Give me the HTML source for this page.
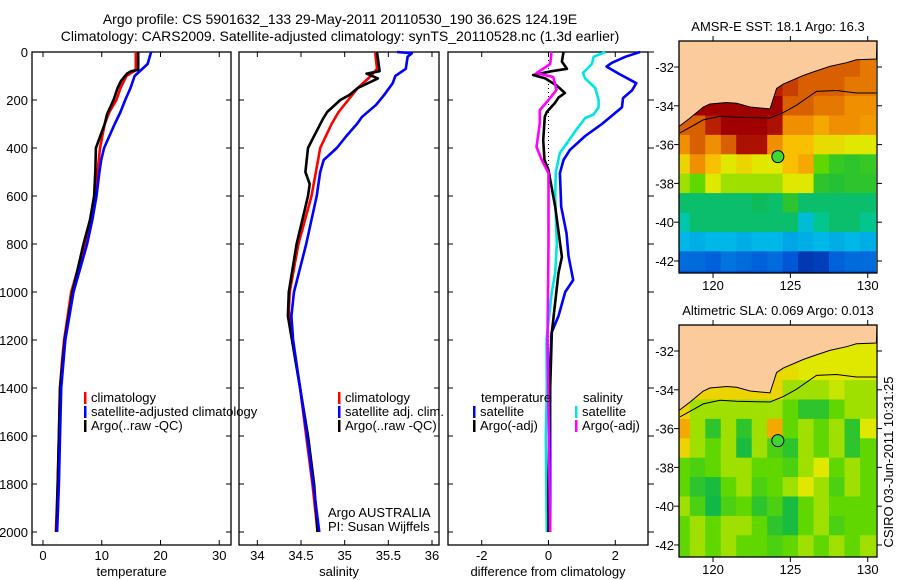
<!DOCTYPE html>
<html><head><meta charset="utf-8"><style>
html,body{margin:0;padding:0;background:#fff;}
svg{display:block;font-family:"Liberation Sans",sans-serif;}
</style></head><body>
<svg id="fig" width="900" height="580" viewBox="0 0 900 580" xmlns="http://www.w3.org/2000/svg">
<text x="340" y="24" font-size="14" text-anchor="middle">Argo profile: CS 5901632_133 29-May-2011 20110530_190 36.62S 124.19E</text>
<text x="340" y="41" font-size="14" text-anchor="middle">Climatology: CARS2009. Satellite-adjusted climatology: synTS_20110528.nc (1.3d earlier)</text>
<text x="0" y="0" font-size="13" text-anchor="middle" transform="translate(893,462) rotate(-90)">CSIRO 03-Jun-2011 10:31:25</text>
</svg>
<script>
// ---------- data ----------
const tDepth=[0,70,80,100,150,200,250,300,400,500,600,700,800,900,1000,1100,1200,1300,1400,1600,1800,2000];
const tClim=[15.8,15.8,15.5,14.2,13.2,12.5,11.3,10.5,9.7,9.3,8.9,8.0,7.1,6.0,4.8,4.2,3.6,3.2,2.9,2.7,2.5,2.2];
const tSatDepth=[0,50,100,150,200,250,300,400,450,500,600,700,800,1000,1200,1400,1600,1800,2000];
const tSat=[18.4,17.8,15.6,14.9,14.0,13.2,12.2,10.4,9.9,9.6,9.1,8.4,7.5,5.2,3.8,3.1,2.9,2.7,2.4];
const tArgoDepth=[0,75,80,90,120,150,200,260,300,400,500,600,700,800,1000,1200,1400,1600,1800,2000];
const tArgo=[16.2,16.2,15.0,14.3,13.3,12.7,12.0,10.9,10.5,9.0,8.9,8.7,8.0,6.9,5.0,3.7,2.9,2.7,2.5,2.3];

const sDepth=[0,70,100,150,200,250,300,400,500,600,800,1000,1080,1200,1400,1600,1800,2000];
const sClim=[35.35,35.37,35.3,35.15,35.04,34.93,34.85,34.72,34.67,34.62,34.47,34.37,34.36,34.4,34.49,34.56,34.63,34.69];
const sSatDepth=[0,5,20,70,100,130,180,220,270,300,350,400,450,500,600,800,1000,1100,1200,1400,1600,1800,2000];
const sSat=[35.6,35.77,35.72,35.7,35.58,35.55,35.45,35.36,35.2,35.14,35.02,34.91,34.76,34.72,34.68,34.56,34.42,34.39,34.41,34.49,34.57,34.64,34.71];
const sArgoDepth=[0,80,90,110,150,180,200,250,280,350,400,500,550,600,800,1000,1100,1400,1600,1800,2000];
const sArgo=[35.37,35.4,35.25,35.38,35.15,35.05,34.95,34.8,34.75,34.65,34.58,34.55,34.6,34.58,34.45,34.36,34.35,34.49,34.58,34.65,34.69];

const dTSatDepth=[0,20,45,61,90,130,160,192,230,262,300,350,408,450,505,645,755,850,950,1000,1100,1170,1300,1600,2000];
const dTSat=[2.74,2.3,1.9,1.74,2.1,2.63,2.5,2.23,2.2,1.93,1.6,1.1,0.64,0.45,0.34,0.38,0.54,0.6,0.74,0.5,0.3,0.09,0.05,0.05,0.05];
const dTArgoDepth=[0,40,70,80,96,110,140,171,190,213,250,270,367,450,492,645,854,920,1170,1400,1800,2000];
const dTArgo=[0.45,0.4,0.55,0.1,-0.46,-0.1,0.25,0.49,0.3,0.19,-0.05,-0.11,-0.16,-0.12,0,0.2,0.4,0.3,0.1,0.05,0.0,0.0];
const dSSatDepth=[0,20,50,88,110,150,200,230,260,275,330,380,420,500,600,800,920,1000,1200,1400,1600,2000];
const dSSat=[1.7,1.35,1.3,1.03,1.1,1.4,1.5,1.5,1.35,1.1,0.8,0.55,0.34,0.22,0.2,0.25,0.2,0.1,-0.06,-0.05,-0.08,-0.05];
const dSArgoDepth=[0,50,88,104,158,200,242,296,396,450,505,800,1200,2000];
const dSArgo=[0.09,0.05,-0.36,0.14,0.24,0.0,-0.26,-0.26,-0.36,-0.2,0,0.0,-0.03,0.05];

const depthTicks=[0,200,400,600,800,1000,1200,1400,1600,1800,2000];
const tempTicks=[0,10,20,30];
const salTicks=[34,34.5,35,35.5,36];
const salTickLabels=["34","34.5","35","35.5","36"];
const diffTicks=[-2,0,2];

const mapLons=[118,119,120,121,122,123,124,125,126,127,128,129,130];
const mapLats=[-31,-32,-33,-34,-35,-36,-37,-38,-39,-40,-41,-42,-43];
const sstGrid=[
[8,8,8,8,8,8,8,8,8,8,8,8,8],
[8,8,8,8,8,8,8,8,8,8,8,8,7.5],
[9,9,9,9,9,9,9,8.5,8,8,8,7.5,7.5],
[10,10,10,10,10,10,10,8,8,7.5,7.5,7,7],
[8,8,9,10,10,10,9.5,7,7,6.5,7,7,6.8],
[7,8,7,8,9.5,9.5,7,6,6,5.3,5.3,5,5],
[5.5,7,6,5,5.5,5,5,6,6.5,4,3.6,3.5,3.6],
[4.5,4,5,4.5,4.5,4.5,4.5,5,5,3.5,3.4,3.5,3.5],
[3,3,3,3,3,3.1,3,3.5,3,3,3,3,3],
[2.6,3,3,3,3,3,3,3,2.2,2.8,3,3,2.8],
[2,1.9,2,2,1.9,2,2,1.8,1.9,2,1.9,2,1.9],
[1.2,1.2,1.1,1.3,1.2,1.1,1.2,1,0.5,0.6,1.1,1.2,1.2],
[0.8,0.9,0.8,0.9,0.8,0.8,0.9,0.6,0.4,0.5,0.8,0.9,0.8]];
const slaGrid=[
[5,5,5,5,5,5,5,5,5,5,5,5,5],
[5,5,5,5,5,5,5,5,5,5,5,5,5],
[5.5,5.5,5.5,5.5,5.5,5.5,5.5,5.3,5,5,5,5,5],
[5.5,5.5,5.5,5.5,5.5,5.5,5.5,4.5,4.5,4.5,4.8,4.5,4.5],
[5.5,4.5,4.5,4.5,4.5,4.5,4.5,4,3.5,3.5,4,4.5,4.5],
[6.5,4.5,3.5,4.5,3.5,4.5,6.5,4,4.5,4,4.5,3.5,5],
[5.5,4.5,4,4.5,3.3,4.5,3.8,3.5,4.5,4,4.5,3.5,4],
[4,3.8,4,4.5,4.5,4,4,3.8,4.5,5,4,4.5,4],
[4,3.5,3.3,4,4.5,3.8,4,4.5,5,4.5,3.8,4.5,4],
[4.5,3.8,3.2,3.8,4,3.5,3.8,3.3,4,4.5,4,4,4],
[4,4.5,4,4.5,4.5,4,3.5,3.3,4,4.5,3.8,4,4],
[4,4.5,4,4.5,4,4,3.8,4,4.5,4,4.5,4,4.5],
[4,4.5,4,4.5,4,4,3.8,4,4.5,4,4.5,4,4.5]];
const coastLon=[117.87,118.52,119.37,119.8,120.88,121.53,122.39,123.68,124.11,124.54,125.83,126.47,127.55,128.63,129.27,130.56];
const coastLat=[-35.02,-34.63,-34.06,-33.91,-33.83,-33.87,-34.06,-34.16,-33.11,-32.88,-32.44,-32.26,-31.97,-31.78,-31.63,-31.59];
const shelfLon=[117.87,118.52,119.37,120.45,121.53,123.68,124.54,125.4,126.26,126.69,127.98,129.27,130.56];
const shelfLat=[-35.39,-35.11,-34.73,-34.54,-34.59,-34.63,-34.35,-33.97,-33.49,-33.26,-33.21,-33.34,-33.34];
const argoLon=124.19, argoLat=-36.62;
const lonTicks=[120,125,130];
const latTicks=[-32,-34,-36,-38,-40,-42];

// ---------- drawing ----------
const NS="http://www.w3.org/2000/svg";
const svg=document.getElementById('fig');
function mk(tag,attrs,parent){const e=document.createElementNS(NS,tag);for(const k in attrs)e.setAttribute(k,attrs[k]);(parent||svg).appendChild(e);return e;}

const yTop=52, yBot=545;
const yD=d=>52+d*0.24;

function panel(name,x0,x1,xmin,xmax,ticks,labels,title,showYLabels,rightOut){
  const g=mk('g',{});
  
  
  const sx=v=>x0+(v-xmin)/(xmax-xmin)*(x1-x0);
  const r=mk('rect',{x:x0,y:yTop,width:x1-x0,height:yBot-yTop,fill:'none',stroke:'#000','stroke-width':1.3},g);
  
  
  depthTicks.forEach(d=>{
    const y=yD(d);
    mk('line',{x1:x0,x2:x0+5,y1:y,y2:y,stroke:'#000'},g);
    if(rightOut) mk('line',{x1:x1,x2:x1+6,y1:y,y2:y,stroke:'#000'},g);
    else mk('line',{x1:x1-5,x2:x1,y1:y,y2:y,stroke:'#000'},g);
    if(showYLabels){const t=mk('text',{x:x0-4,y:y+5,'font-size':13,'text-anchor':'end'},g);t.textContent=String(d);
      
      }
  });
  ticks.forEach((v,i)=>{
    const x=sx(v);
    mk('line',{x1:x,x2:x,y1:yBot,y2:yBot-5,stroke:'#000'},g);
    mk('line',{x1:x,x2:x,y1:yTop,y2:yTop+5,stroke:'#000'},g);
    const t=mk('text',{x:x,y:560,'font-size':13,'text-anchor':'middle'},g);t.textContent=labels[i];
    
    
  });
  const tt=mk('text',{x:(x0+x1)/2,y:576,'font-size':13,'text-anchor':'middle'},g);tt.textContent=title;
  
  
  return {g,sx};
}
function line(p,ds,vs,color,name){
  const pts=ds.map((d,i)=>p.sx(vs[i]).toFixed(1)+','+yD(d).toFixed(1)).join(' ');
  const l=mk('polyline',{points:pts,fill:'none',stroke:color,'stroke-width':2.6,'stroke-linejoin':'round'},p.g);
  
  
}
function legend(g,x,y,color,text,name){
  mk('rect',{x:x,y:y-10,width:2.5,height:12,fill:color},g);
  const t=mk('text',{x:x+7,y:y,'font-size':13},g);t.textContent=text;
  
  
}

const p1=panel('temperature-panel',32,231,-1.87,32,tempTicks,tempTicks.map(String),'temperature',true,false);
line(p1,tDepth,tClim,'#ff0000','temp-climatology-line');
line(p1,tArgoDepth,tArgo,'#000000','temp-argo-line');
line(p1,tSatDepth,tSat,'#0000ff','temp-satellite-line');
legend(p1.g,84,402,'#ff0000','climatology','legend-climatology');
legend(p1.g,84,416,'#0000ff','satellite-adjusted climatology','legend-satellite-adjusted');
legend(p1.g,84,430,'#000000','Argo(..raw -QC)','legend-argo');

const p2=panel('salinity-panel',239,439,33.79,36.08,salTicks,salTickLabels,'salinity',false,false);
line(p2,sDepth,sClim,'#ff0000','sal-climatology-line');
line(p2,sArgoDepth,sArgo,'#000000','sal-argo-line');
line(p2,sSatDepth,sSat,'#0000ff','sal-satellite-line');
legend(p2.g,338,402,'#ff0000','climatology','legend-sal-climatology');
legend(p2.g,338,416,'#0000ff','satellite adj. clim.','legend-sal-satellite');
legend(p2.g,338,430,'#000000','Argo(..raw -QC)','legend-sal-argo');
const a1=mk('text',{x:328,y:517,'font-size':13},p2.g);a1.textContent='Argo AUSTRALIA';


const a2=mk('text',{x:328,y:531,'font-size':13},p2.g);a2.textContent='PI: Susan Wijffels';



const p3=panel('difference-panel',448,648,-3.01,2.98,diffTicks,diffTicks.map(String),'difference from climatology',false,true);
mk('line',{x1:p3.sx(0),x2:p3.sx(0),y1:yD(0),y2:yD(2000),stroke:'#000','stroke-width':1,'stroke-dasharray':'1,3'},p3.g);
line(p3,dTSatDepth,dTSat,'#0000ff','diff-temp-satellite-line');
line(p3,dSSatDepth,dSSat,'#00e5e5','diff-sal-satellite-line');
line(p3,dTArgoDepth,dTArgo,'#000000','diff-temp-argo-line');
line(p3,dSArgoDepth,dSArgo,'#ff00ff','diff-sal-argo-line');
const lt=mk('text',{x:481,y:402,'font-size':13},p3.g);lt.textContent='temperature';


const ls=mk('text',{x:583,y:402,'font-size':13},p3.g);ls.textContent='salinity';


legend(p3.g,473,416,'#0000ff','satellite','legend-diff-temp-satellite');
legend(p3.g,473,430,'#000000','Argo(-adj)','legend-diff-temp-argo');
legend(p3.g,575,416,'#00e5e5','satellite','legend-diff-sal-satellite');
legend(p3.g,575,430,'#ff00ff','Argo(-adj)','legend-diff-sal-argo');

// colormap
const cStops=[[0,[0,26,140]],[1,[0,88,216]],[2,[0,184,232]],[2.7,[0,200,160]],[3.2,[16,184,72]],[4,[96,216,0]],[5,[224,232,0]],[6,[248,192,0]],[7,[240,144,0]],[8,[216,96,0]],[9,[184,32,0]],[10,[160,0,0]]];
function cmap(v){
  if(v<=cStops[0][0])return 'rgb('+cStops[0][1]+')';
  for(let i=1;i<cStops.length;i++){if(v<=cStops[i][0]){const a=cStops[i-1],b=cStops[i],t=(v-a[0])/(b[0]-a[0]);
    return 'rgb('+a[1].map((c,j)=>Math.round(c+(b[1][j]-c)*t)).join(',')+')';}}
  return 'rgb('+cStops[cStops.length-1][1]+')';
}
function map(name,top,grid,title){
  const L=679,R=877,B=top+232;
  const lonMin=117.8,lonMax=130.6,latTop=-30.66,latBot=-42.62;
  const sx=lo=>L+(lo-lonMin)/(lonMax-lonMin)*(R-L);
  const sy=la=>top+(latTop-la)/(latTop-latBot)*(B-top);
  const g=mk('g',{});
  
  
  const cp=mk('clipPath',{id:name+'-clip'},g);
  mk('rect',{x:L,y:top,width:R-L,height:B-top},cp);
  const cells=mk('g',{'clip-path':'url(#'+name+'-clip)'},g);
  mapLats.forEach((la,r)=>mapLons.forEach((lo,c)=>{
    const x=sx(lo-0.5),y=sy(la+0.5);
    const e=mk('rect',{x:x.toFixed(1),y:y.toFixed(1),width:(sx(lo+0.5)-x+0.6).toFixed(1),height:(sy(la-0.5)-y+0.6).toFixed(1),fill:cmap(grid[r][c])},cells);
    
    
  }));
  let land='M'+sx(lonMin)+','+sy(latTop);
  coastLon.forEach((lo,i)=>{land+=' L'+sx(lo).toFixed(1)+','+sy(coastLat[i]).toFixed(1);});
  land+=' L'+sx(lonMax)+','+sy(latTop)+' Z';
  const ld=mk('path',{d:'M'+sx(lonMin)+','+sy(coastLat[0])+land.slice(land.indexOf(' L')),fill:'#fccb9c',stroke:'#000','stroke-width':1},cells);
  ld.setAttribute('d','M'+sx(lonMin)+','+sy(latTop)+' L'+sx(lonMin)+','+sy(coastLat[0])+land.slice(land.indexOf(' L')));
  
  
  const sh=mk('polyline',{points:shelfLon.map((lo,i)=>sx(lo).toFixed(1)+','+sy(shelfLat[i]).toFixed(1)).join(' '),fill:'none',stroke:'#000','stroke-width':1},cells);
  
  
  const dot=mk('circle',{cx:sx(argoLon),cy:sy(argoLat),r:6,fill:'#40d830',stroke:'#000','stroke-width':1},g);
  
  
  const fr=mk('rect',{x:L,y:top,width:R-L,height:B-top,fill:'none',stroke:'#000','stroke-width':1.3},g);
  
  
  lonTicks.forEach(lo=>{const x=sx(lo);
    mk('line',{x1:x,x2:x,y1:top,y2:top-5,stroke:'#000'},g);
    mk('line',{x1:x,x2:x,y1:B,y2:B+5,stroke:'#000'},g);
    const t=mk('text',{x:x,y:B+17,'font-size':13,'text-anchor':'middle'},g);t.textContent=String(lo);
    
    });
  latTicks.forEach(la=>{const y=sy(la);
    mk('line',{x1:L-5,x2:L,y1:y,y2:y,stroke:'#000'},g);
    mk('line',{x1:R,x2:R+5,y1:y,y2:y,stroke:'#000'},g);
    const t=mk('text',{x:L-5,y:y+5,'font-size':13,'text-anchor':'end'},g);t.textContent=String(la);
    
    });
  const tt=mk('text',{x:(L+R)/2,y:top-10,'font-size':13,'text-anchor':'middle'},g);tt.textContent=title;
  
  
}
map('sst-map',41,sstGrid,'AMSR-E SST: 18.1 Argo: 16.3');
map('sla-map',325,slaGrid,'Altimetric SLA: 0.069 Argo: 0.013');
</script>
</body></html>
